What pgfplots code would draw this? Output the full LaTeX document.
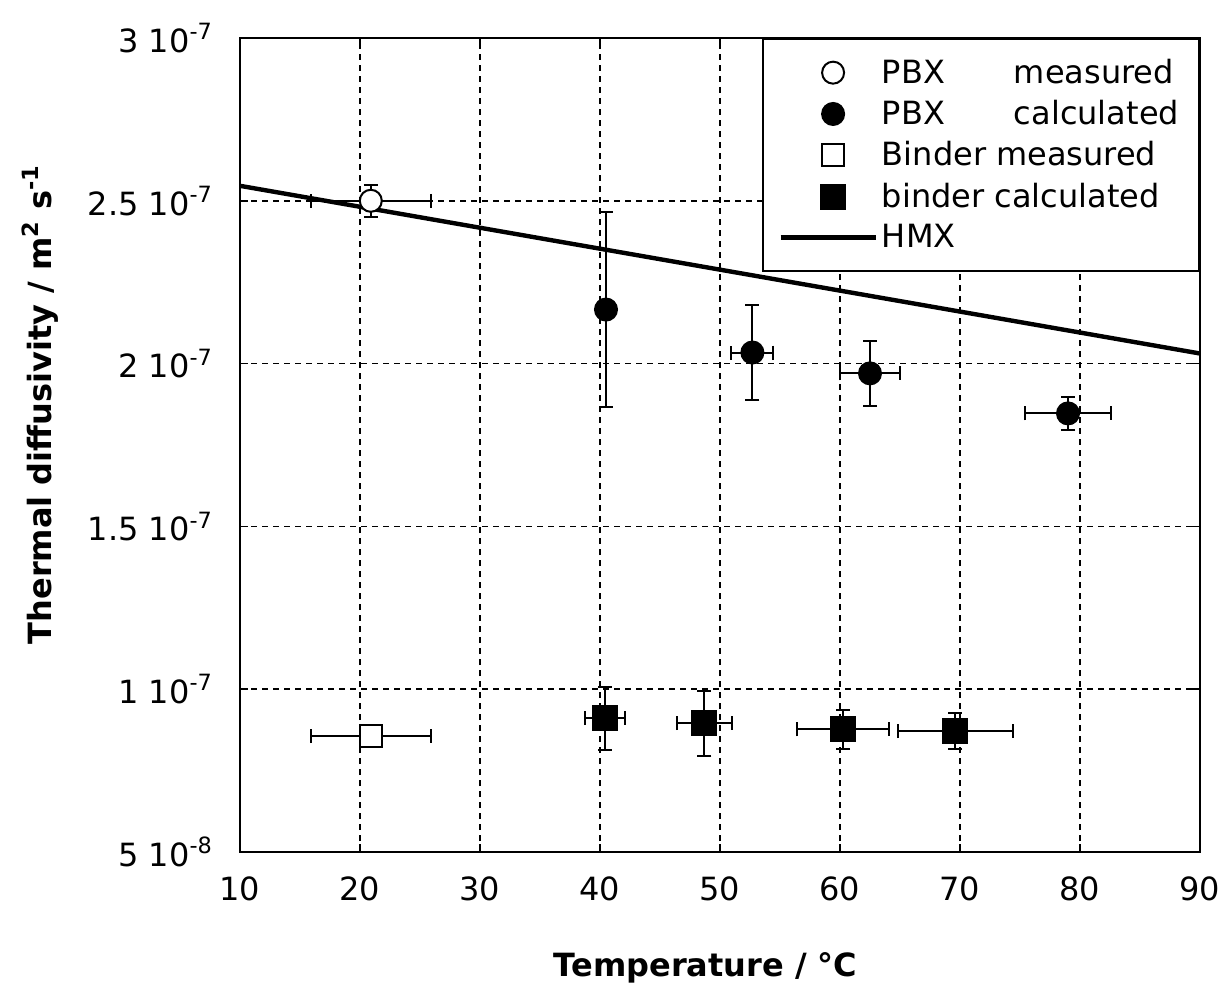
\documentclass[border=0pt]{standalone}
\usepackage{fontspec}
\setmainfont{DejaVu Sans}
\usepackage{pgfplots}
\pgfplotsset{compat=1.18}
\pgfplotsset{
  markleg/.style={legend image code/.code={\path (0cm,0cm) (1.67cm,0cm); \draw[##1] plot coordinates {(0.92cm,0cm)};}},
  lineleg/.style={legend image code/.code={\draw[##1] (0cm,0cm) -- (1.67cm,0cm);}},
}
\begin{document}
\begin{tikzpicture}
\begin{axis}[
  scale only axis, width=480pt, height=407pt,
  xmin=10, xmax=90, ymin=0.5e-7, ymax=3e-7,
  xtick={10,20,...,90},
  ytick={0.5e-7,1e-7,1.5e-7,2e-7,2.5e-7,3e-7},
  yticklabels={5 10\textsuperscript{-8}, 1 10\textsuperscript{-7}, 1.5 10\textsuperscript{-7}, 2 10\textsuperscript{-7}, 2.5 10\textsuperscript{-7}, 3 10\textsuperscript{-7}},
  scaled y ticks=false,
  /pgf/number format/assume math mode=true,
  tick label style={font=\fontsize{16}{19}\selectfont},
  xticklabel style={yshift=-9pt},
  yticklabel style={xshift=-10pt},
  grid=major,
  major grid style={black, line width=0.8pt, dash pattern=on 3pt off 2.5pt},
  axis line style={line width=1pt},
  tick align=inside, major tick length=4pt,
  tick style={black, line width=0.8pt},
  xlabel={\textbf{Temperature / °C}},
  ylabel={\textbf{Thermal diffusivity / m\textsuperscript{2} s\textsuperscript{-1}}},
  label style={font=\fontsize{16}{19}\selectfont},
  xlabel style={at={(axis description cs:0.485,-0.1425)}, anchor=center},
  ylabel style={at={(axis description cs:-0.2083,0.55)}, anchor=center},
  legend style={at={(1,1)}, anchor=north east, draw=black, line width=1pt, fill=white,
    font=\fontsize{16}{19}\selectfont, row sep=3pt, inner xsep=8pt, inner ysep=8pt},
  legend cell align=left,
  error bars/error bar style={line width=1pt},
  error bars/error mark options={rotate=90, mark size=3.5pt, line width=1pt},
]
\coordinate (sw) at (rel axis cs:0,0);
\coordinate (ne) at (rel axis cs:1,1);
% HMX line
\addplot[black, line width=2.2pt, forget plot] coordinates {(10,2.546e-7) (90,2.031e-7)};
% PBX measured
\addplot[only marks, mark=*, mark size=5.5pt, black, line width=1pt, mark options={fill=white}, markleg,
  error bars/.cd, x dir=both, x explicit, y dir=both, y explicit]
  coordinates {(20.9,2.5e-7) +- (5.0,0.05e-7)};
\addlegendentry{\makebox[66pt][l]{PBX}measured}
% PBX calculated
\addplot[only marks, mark=*, mark size=5.5pt, black, line width=1pt, mark options={fill=black}, markleg,
  error bars/.cd, x dir=both, x explicit, y dir=both, y explicit]
  coordinates {
    (40.5,2.166e-7) +- (0,0.30e-7)
    (52.7,2.034e-7) +- (1.75,0.145e-7)
    (62.5,1.970e-7) +- (2.5,0.10e-7)
    (79.0,1.847e-7) +- (3.6,0.05e-7)
  };
\addlegendentry{\makebox[66pt][l]{PBX}calculated}
% Binder measured
\addplot[only marks, mark=square*, mark size=5.5pt, black, line width=1pt, mark options={fill=white}, markleg,
  error bars/.cd, x dir=both, x explicit, y dir=both, y explicit]
  coordinates {(20.9,8.56e-8) +- (5.0,0)};
\addlegendentry{Binder measured}
% binder calculated
\addplot[only marks, mark=square*, mark size=6pt, black, line width=1pt, mark options={fill=black}, markleg,
  error bars/.cd, x dir=both, x explicit, y dir=both, y explicit]
  coordinates {
    (40.4,9.11e-8) +- (1.67,0.097e-7)
    (48.7,8.96e-8) +- (2.3,0.10e-7)
    (60.25,8.77e-8) +- (3.8,0.06e-7)
    (69.6,8.71e-8) +- (4.8,0.055e-7)
  };
\addlegendentry{binder calculated}
\addlegendimage{black, line width=2.2pt, lineleg}
\addlegendentry{HMX}
\end{axis}
\pgfresetboundingbox
\path[use as bounding box] ([xshift=-120pt,yshift=-69pt]sw) rectangle ([xshift=12pt,yshift=19pt]ne);
\end{tikzpicture}
\end{document}
